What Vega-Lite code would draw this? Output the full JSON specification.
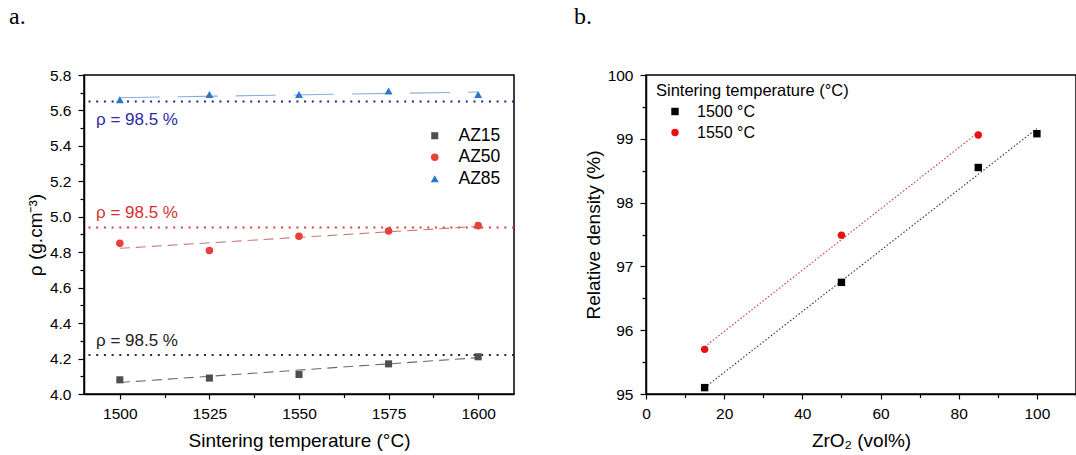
{
  "$schema": "https://vega.github.io/schema/vega-lite/v6.json",
  "background": "white",
  "padding": {"left": 8, "top": 4, "right": 0, "bottom": 0},
  "spacing": 132,
  "bounds": "flush",
  "config": {
    "font": "Liberation Sans",
    "view": {"stroke": "black", "strokeWidth": 1.5},
    "axis": {
      "grid": false, "domainColor": "black", "domainWidth": 1.5,
      "tickColor": "black", "tickWidth": 1.2, "tickSize": 5,
      "labelColor": "black", "titleColor": "black",
      "labelFont": "Liberation Sans", "titleFont": "Liberation Sans",
      "labelFontSize": 15.5, "titleFontSize": 19, "titleFontWeight": "normal",
      "labelPadding": 7, "titlePadding": 4, "labelOverlap": false, "labelFlush": false
    },
    "axisX": {"titlePadding": 10},
    "legend": {"labelFont": "Liberation Sans", "titleFont": "Liberation Sans", "labelColor": "black", "titleColor": "black", "padding": 0, "titleLimit": 400}
  },
  "resolve": {"scale": {"color": "independent", "shape": "independent", "size": "independent", "strokeDash": "independent"}},
  "datasets": {
    "ptsA": [
      {"T": 1500, "rho": 4.08, "series": "AZ15"},
      {"T": 1525, "rho": 4.09, "series": "AZ15"},
      {"T": 1550, "rho": 4.11, "series": "AZ15"},
      {"T": 1575, "rho": 4.17, "series": "AZ15"},
      {"T": 1600, "rho": 4.21, "series": "AZ15"},
      {"T": 1500, "rho": 4.85, "series": "AZ50"},
      {"T": 1525, "rho": 4.81, "series": "AZ50"},
      {"T": 1550, "rho": 4.89, "series": "AZ50"},
      {"T": 1575, "rho": 4.92, "series": "AZ50"},
      {"T": 1600, "rho": 4.95, "series": "AZ50"},
      {"T": 1500, "rho": 5.66, "series": "AZ85"},
      {"T": 1525, "rho": 5.69, "series": "AZ85"},
      {"T": 1550, "rho": 5.69, "series": "AZ85"},
      {"T": 1575, "rho": 5.71, "series": "AZ85"},
      {"T": 1600, "rho": 5.69, "series": "AZ85"}
    ],
    "fitA": [
      {"T": 1500, "rho": 4.065, "series": "AZ15"},
      {"T": 1600, "rho": 4.205, "series": "AZ15"},
      {"T": 1500, "rho": 4.822, "series": "AZ50"},
      {"T": 1600, "rho": 4.946, "series": "AZ50"},
      {"T": 1500, "rho": 5.672, "series": "AZ85"},
      {"T": 1600, "rho": 5.704, "series": "AZ85"}
    ],
    "refA": [
      {"series": "AZ15", "rho": 4.22, "label": "ρ = 98.5 %"},
      {"series": "AZ50", "rho": 4.94, "label": "ρ = 98.5 %"},
      {"series": "AZ85", "rho": 5.65, "label": "ρ = 98.5 %"}
    ],
    "ptsB": [
      {"Zr": 15, "rd": 95.1, "T": "1500 °C"},
      {"Zr": 50, "rd": 96.75, "T": "1500 °C"},
      {"Zr": 85, "rd": 98.55, "T": "1500 °C"},
      {"Zr": 100, "rd": 99.08, "T": "1500 °C"},
      {"Zr": 15, "rd": 95.7, "T": "1550 °C"},
      {"Zr": 50, "rd": 97.49, "T": "1550 °C"},
      {"Zr": 85, "rd": 99.06, "T": "1550 °C"}
    ],
    "fitB": [
      {"Zr": 15, "rd": 95.1, "T": "1500 °C"},
      {"Zr": 100, "rd": 99.16, "T": "1500 °C"},
      {"Zr": 15, "rd": 95.74, "T": "1550 °C"},
      {"Zr": 85, "rd": 99.1, "T": "1550 °C"}
    ]
  },
  "hconcat": [
    {
      "width": 430,
      "height": 319,
      "title": {"text": "a.", "anchor": "start", "frame": "group", "dx": -75, "offset": 20, "baseline": "alphabetic", "font": "Liberation Serif", "fontSize": 24, "fontWeight": "normal", "color": "black"},
      "resolve": {"scale": {"color": "independent", "shape": "independent", "size": "independent", "strokeDash": "independent"}},
      "layer": [
        {
          "data": {"name": "refA"},
          "mark": {"type": "rule", "strokeDash": [2, 5.7], "strokeWidth": 2},
          "encoding": {
            "y": {
              "field": "rho", "type": "quantitative",
              "scale": {"domain": [4.0, 5.8], "nice": false, "zero": false},
              "axis": {
                "title": "ρ (g.cm⁻³)",
                "values": [4.0, 4.1, 4.2, 4.3, 4.4, 4.5, 4.6, 4.7, 4.8, 4.9, 5.0, 5.1, 5.2, 5.3, 5.4, 5.5, 5.6, 5.7, 5.8],
                "tickCount": 100,
                "labelExpr": "round(datum.value * 10) % 2 == 0 ? format(datum.value, '.1f') : ''",
                "tickSize": {"condition": {"test": "round(datum.value * 10) % 2 == 0", "value": 6}, "value": 4},
                "labelOverlap": false
              }
            },
            "color": {"field": "series", "type": "nominal", "scale": {"domain": ["AZ15", "AZ50", "AZ85"], "range": ["#2b2b2b", "#e03c3c", "#23238f"]}, "legend": null}
          }
        },
        {
          "data": {"name": "refA"},
          "transform": [{"filter": "datum.series == 'AZ85'"}],
          "mark": {"type": "text", "align": "left", "baseline": "alphabetic", "dx": 12, "dy": 23, "fontSize": 17, "font": "Liberation Sans"},
          "encoding": {
            "x": {"datum": 1490, "type": "quantitative", "scale": {"domain": [1490, 1610], "nice": false, "zero": false}},
            "y": {"field": "rho", "type": "quantitative"},
            "text": {"field": "label"},
            "color": {"field": "series", "type": "nominal", "scale": {"domain": ["AZ85"], "range": ["#2b2b9e"]}, "legend": null}
          }
        },
        {
          "data": {"name": "refA"},
          "transform": [{"filter": "datum.series != 'AZ85'"}],
          "mark": {"type": "text", "align": "left", "baseline": "alphabetic", "dx": 12, "dy": -9.5, "fontSize": 17, "font": "Liberation Sans"},
          "encoding": {
            "x": {"datum": 1490, "type": "quantitative"},
            "y": {"field": "rho", "type": "quantitative"},
            "text": {"field": "label"},
            "color": {"field": "series", "type": "nominal", "scale": {"domain": ["AZ15", "AZ50"], "range": ["#222222", "#d63030"]}, "legend": null}
          }
        },
        {
          "data": {"name": "fitA"},
          "mark": {"type": "line", "strokeWidth": 1.1},
          "encoding": {
            "x": {"field": "T", "type": "quantitative"},
            "y": {"field": "rho", "type": "quantitative"},
            "detail": {"field": "series"},
            "color": {"field": "series", "type": "nominal", "scale": {"domain": ["AZ15", "AZ50", "AZ85"], "range": ["#6a6a6a", "#c87a7a", "#86aede"]}, "legend": null},
            "strokeDash": {"field": "series", "type": "nominal", "scale": {"domain": ["AZ15", "AZ50", "AZ85"], "range": [[10, 6], [10, 6], [40, 18]]}, "legend": null}
          }
        },
        {
          "data": {"name": "ptsA"},
          "mark": {"type": "point", "filled": true, "opacity": 1},
          "encoding": {
            "x": {
              "field": "T", "type": "quantitative",
              "axis": {
                "title": "Sintering temperature (°C)",
                "values": [1500, 1512.5, 1525, 1537.5, 1550, 1562.5, 1575, 1587.5, 1600],
                "tickCount": 100,
                "labelExpr": "datum.value % 25 == 0 ? format(datum.value, 'd') : ''",
                "tickSize": {"condition": {"test": "datum.value % 25 == 0", "value": 5}, "value": 3.5},
                "labelOverlap": false
              }
            },
            "y": {"field": "rho", "type": "quantitative"},
            "color": {
              "field": "series", "type": "nominal",
              "scale": {"domain": ["AZ15", "AZ50", "AZ85"], "range": ["#4f4f4f", "#e8413c", "#2a78cc"]},
              "legend": {"title": null, "orient": "none", "legendX": 342, "legendY": 52, "labelFontSize": 17.5, "labelOffset": 15, "rowPadding": 2.5, "symbolSize": 60}
            },
            "shape": {
              "field": "series", "type": "nominal",
              "scale": {"domain": ["AZ15", "AZ50", "AZ85"], "range": ["square", "circle", "triangle-up"]}
            },
            "size": {
              "field": "series", "type": "nominal",
              "scale": {"domain": ["AZ15", "AZ50", "AZ85"], "range": [50, 64, 90]},
              "legend": null
            }
          }
        }
      ]
    },
    {
      "width": 430,
      "height": 319,
      "title": {"text": "b.", "anchor": "start", "frame": "group", "dx": -72, "offset": 20, "baseline": "alphabetic", "font": "Liberation Serif", "fontSize": 24, "fontWeight": "normal", "color": "black"},
      "resolve": {"scale": {"color": "independent", "shape": "independent"}},
      "layer": [
        {
          "data": {"name": "fitB"},
          "mark": {"type": "line", "strokeWidth": 1.1, "strokeDash": [1.5, 2]},
          "encoding": {
            "x": {"field": "Zr", "type": "quantitative"},
            "y": {"field": "rd", "type": "quantitative"},
            "detail": {"field": "T"},
            "color": {"field": "T", "type": "nominal", "scale": {"domain": ["1500 °C", "1550 °C"], "range": ["#333333", "#c83a3a"]}, "legend": null}
          }
        },
        {
          "data": {"name": "ptsB"},
          "mark": {"type": "point", "filled": true, "opacity": 1, "size": 55},
          "encoding": {
            "x": {
              "field": "Zr", "type": "quantitative",
              "scale": {"domain": [0, 110], "nice": false},
              "axis": {
                "title": "ZrO₂ (vol%)",
                "values": [0, 10, 20, 30, 40, 50, 60, 70, 80, 90, 100, 110],
                "tickCount": 100,
                "labelExpr": "datum.value % 20 == 0 ? format(datum.value, 'd') : ''",
                "tickSize": {"condition": {"test": "datum.value % 20 == 0", "value": 5}, "value": 3.5},
                "labelOverlap": false
              }
            },
            "y": {
              "field": "rd", "type": "quantitative",
              "scale": {"domain": [95, 100], "nice": false, "zero": false},
              "axis": {
                "title": "Relative density (%)",
                "values": [95, 95.5, 96, 96.5, 97, 97.5, 98, 98.5, 99, 99.5, 100],
                "tickCount": 100,
                "labelExpr": "datum.value % 1 == 0 ? format(datum.value, 'd') : ''",
                "tickSize": {"condition": {"test": "datum.value % 1 == 0", "value": 6}, "value": 4},
                "labelOverlap": false
              }
            },
            "color": {
              "field": "T", "type": "nominal",
              "scale": {"domain": ["1500 °C", "1550 °C"], "range": ["#000000", "#e81010"]},
              "legend": {"title": "Sintering temperature (°C)", "orient": "none", "legendX": 10, "legendY": 8, "titleFontSize": 16.5, "titleFontWeight": "normal", "labelFontSize": 16, "symbolOffset": 11, "labelOffset": 14, "rowPadding": 5, "titlePadding": 4, "symbolSize": 55}
            },
            "shape": {
              "field": "T", "type": "nominal",
              "scale": {"domain": ["1500 °C", "1550 °C"], "range": ["square", "circle"]}
            }
          }
        }
      ]
    }
  ]
}
